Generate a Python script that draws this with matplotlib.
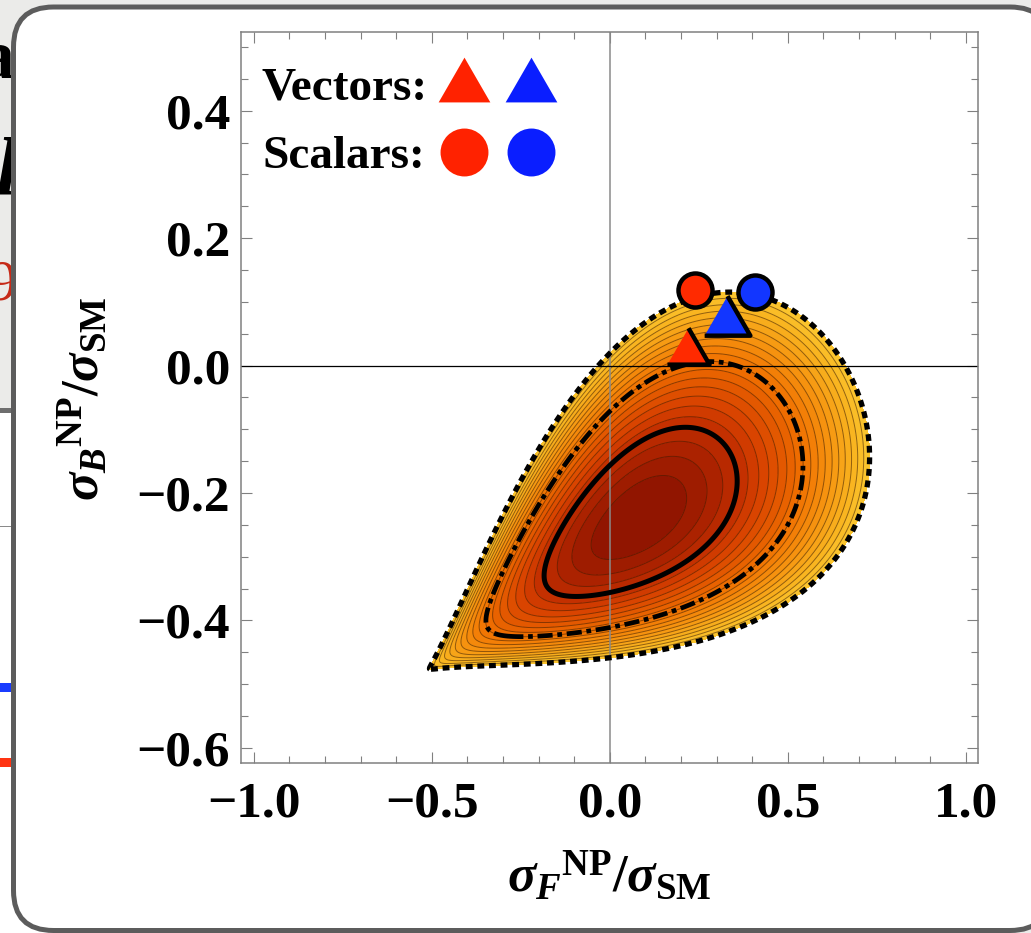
import numpy as np
import matplotlib
matplotlib.use("Agg")
import matplotlib.pyplot as plt
from matplotlib.colors import LinearSegmentedColormap
from matplotlib.patches import FancyBboxPatch, Rectangle
from matplotlib.transforms import IdentityTransform

# ---- fit of the NP forward/backward cross sections ----
R_BEST = 0.8386      # best-fit total rate (SM units)
R_SIGMA = 0.2389     # uncertainty on total rate
AFB_BEST = 0.4286    # best-fit forward-backward asymmetry
AFB_SIGMA = 0.1228   # asymmetry uncertainty at unit rate
AFB_SM = 0.0382      # SM forward minus backward (SM units)
RHO = -0.0109        # rate / asymmetry correlation
STAT_POWER = 0.3473  # scaling of asymmetry error with rate
CL_LEVELS = [2.30, 6.18, 11.83]   # 1, 2, 3 sigma (2 dof)
N_BANDS = 21

# ---- benchmark models (sigma_F^NP, sigma_B^NP) ----
vec_red = (0.219, 0.021)
vec_blue = (0.330, 0.069)
sca_red = (0.239, 0.119)
sca_blue = (0.407, 0.116)

# ---- axes ----
XLIM = (-1.036, 1.034)
YLIM = (-0.6239, 0.5237)
XTICKS = [-1.0, -0.5, 0.0, 0.5, 1.0]
XTICK_LABELS = ['\u22121.0', '\u22120.5', '0.0', '0.5', '1.0']
YTICKS = [-0.6, -0.4, -0.2, 0.0, 0.2, 0.4]
YTICK_LABELS = ['\u22120.6', '\u22120.4', '\u22120.2', '0.0', '0.2', '0.4']
XMINOR = np.arange(-1.0, 1.01, 0.1)
YMINOR = np.arange(-0.6, 0.51, 0.05)

RED = '#ff2a00'
BLUE = '#1236ff'
SERIF = 'Liberation Serif'

plt.rcParams['mathtext.fontset'] = 'custom'
plt.rcParams['mathtext.rm'] = 'Liberation Serif:bold'
plt.rcParams['mathtext.it'] = 'Liberation Serif:italic:bold'
plt.rcParams['mathtext.bf'] = 'Liberation Serif:bold'


def chi2(p, q):
    rate = 1 + p + q
    rs = np.maximum(rate, 1e-4)
    afb = (AFB_SM + p - q) / rs
    x = (rate - R_BEST) / R_SIGMA
    y = (afb - AFB_BEST) * rs**STAT_POWER / AFB_SIGMA
    c = (x * x - 2 * RHO * x * y + y * y) / (1 - RHO * RHO)
    return np.where(rate > 1e-3, c, 1e3)


W, H = 1031, 933
fig = plt.figure(figsize=(W / 100, H / 100), dpi=100, facecolor='#ebebe9')
pix = IdentityTransform()

# slide fragments at the left edge
fig.add_artist(Rectangle((0, 0), 70, H - 413, transform=pix, facecolor='white', edgecolor='none', zorder=0.1))
fig.add_artist(Rectangle((0, H - 413), 20, 5, transform=pix, facecolor='#6e6e6e', edgecolor='none', zorder=0.2))
fig.add_artist(Rectangle((0, H - 527), 20, 1.2, transform=pix, facecolor='#8a8a8a', edgecolor='none', zorder=0.2))
fig.add_artist(Rectangle((0, H - 692), 20, 9, transform=pix, facecolor='#1a3cff', edgecolor='none', zorder=0.2))
fig.add_artist(Rectangle((0, H - 767), 20, 9, transform=pix, facecolor='#ff3412', edgecolor='none', zorder=0.2))
fig.text(14 / W, 1 - 78 / H, 'a', ha='right', va='baseline', fontsize=50, family=SERIF,
         weight='bold', zorder=0.3)
fig.text(18 / W, 1 - 193 / H, 'l', ha='right', va='baseline', fontsize=60, family=SERIF,
         style='italic', weight='bold', zorder=0.3)
fig.text(16 / W, 1 - 300 / H, '9', ha='right', va='baseline', fontsize=42, family=SERIF,
         color='#c62a18', zorder=0.3)

# rounded white panel
fig.add_artist(FancyBboxPatch((13.5, 2.5), 1050 - 13.5, 926 - 2.5, transform=pix,
                              boxstyle='round,pad=0,rounding_size=40',
                              facecolor='white', edgecolor='#5c5c5c', lw=3.6, zorder=1))

ax = fig.add_axes([241 / W, 1 - 763 / H, 737 / W, 731 / H])
ax.set_zorder(5)
ax.patch.set_facecolor('white')

P, Q = np.meshgrid(np.linspace(XLIM[0], XLIM[1], 700), np.linspace(YLIM[0], YLIM[1], 560))
C = chi2(P, Q)
cmap = LinearSegmentedColormap.from_list('heat', [(0.0, '#8a1200'), (0.19, '#bf2c00'),
                                                  (0.30, '#d84200'), (0.52, '#f07000'),
                                                  (0.70, '#f69410'), (0.88, '#f9b520'),
                                                  (1.0, '#fcc830')])
levels = np.linspace(0, CL_LEVELS[-1], N_BANDS + 1)
ax.contourf(P, Q, C, levels=levels, cmap=cmap, zorder=1)
ax.contour(P, Q, C, levels=levels[1:-1], colors='#3c1800', linewidths=0.7, alpha=0.55, zorder=1.5)

ax.axvline(0, color='#8a8a8a', lw=1.1, zorder=2)
ax.axhline(0, color='black', lw=0.9, zorder=2)

c1 = ax.contour(P, Q, C, levels=[CL_LEVELS[0]], colors='black', linewidths=3.6, zorder=3)
c2 = ax.contour(P, Q, C, levels=[CL_LEVELS[1]], colors='black', linewidths=3.4, zorder=3)
c2.set_linestyle((0, (3.2, 1.0, 1.0, 1.0)))
c3 = ax.contour(P, Q, C, levels=[CL_LEVELS[2]], colors='black', linewidths=3.8, zorder=3)
c3.set_linestyle((0, (1.3, 0.9)))

tri = [(-1.0, -0.577), (1.0, -0.577), (0.0, 1.155)]
ax.plot(*vec_red, marker=tri, ms=35, color=RED, mec='black', mew=3.2, zorder=6, clip_on=False)
ax.plot(*vec_blue, marker=tri, ms=38, color=BLUE, mec='black', mew=3.2, zorder=6, clip_on=False)
ax.plot(*sca_red, marker='o', ms=24.5, color=RED, mec='black', mew=3.2, zorder=6, clip_on=False)
ax.plot(*sca_blue, marker='o', ms=24.5, color=BLUE, mec='black', mew=3.2, zorder=6, clip_on=False)

# legend built from text and marker glyphs
def axx(px):
    return (px - 241) / 737


def axy(py):
    return (763 - py) / 731


ax.text(axx(262), axy(100), 'Vectors:', transform=ax.transAxes, ha='left', va='baseline',
        fontsize=34, family=SERIF, weight='bold', zorder=7)
ax.text(axx(262), axy(168), 'Scalars:', transform=ax.transAxes, ha='left', va='baseline',
        fontsize=34, family=SERIF, weight='bold', zorder=7)
ax.plot([axx(464)], [axy(87)], marker=tri, ms=43, color='#ff2200', mew=0, transform=ax.transAxes, zorder=7, clip_on=False)
ax.plot([axx(531)], [axy(87)], marker=tri, ms=43, color='#0a1eff', mew=0, transform=ax.transAxes, zorder=7, clip_on=False)
ax.plot([axx(464)], [axy(152)], marker='o', ms=34.5, color='#ff2200', mew=0, transform=ax.transAxes, zorder=7, clip_on=False)
ax.plot([axx(531)], [axy(152)], marker='o', ms=34.5, color='#0a1eff', mew=0, transform=ax.transAxes, zorder=7, clip_on=False)

ax.set_xlim(*XLIM)
ax.set_ylim(*YLIM)
ax.set_xticks(XTICKS)
ax.set_xticklabels(XTICK_LABELS)
ax.set_yticks(YTICKS)
ax.set_yticklabels(YTICK_LABELS)
ax.set_xticks(XMINOR, minor=True)
ax.set_yticks(YMINOR, minor=True)
for s in ax.spines.values():
    s.set_color('#808080')
    s.set_linewidth(1.1)
ax.tick_params(which='both', direction='in', top=True, right=True, color='#808080', width=0.8)
ax.tick_params(which='major', length=8)
ax.tick_params(which='minor', length=5)
ax.tick_params(axis='x', which='major', pad=13)
ax.tick_params(axis='y', which='major', pad=8)
for lab in ax.get_xticklabels() + ax.get_yticklabels():
    lab.set_fontfamily(SERIF)
    lab.set_fontweight('bold')
    lab.set_fontsize(37)

fig.text(609 / W, 1 - 876 / H, r'${\sigma_F}^{\mathrm{NP}}/\sigma_{\mathrm{SM}}$', ha='center', va='center',
         fontsize=38, zorder=6)
fig.text(83 / W, 1 - 399 / H, r'${\sigma_B}^{\mathrm{NP}}/\sigma_{\mathrm{SM}}$', ha='center', va='center',
         rotation=90, fontsize=38, zorder=6)

fig.savefig('out.png', dpi=100, facecolor=fig.get_facecolor())
